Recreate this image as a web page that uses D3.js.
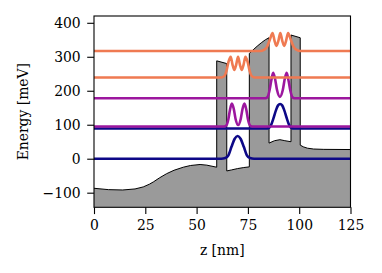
<!DOCTYPE html>
<html>
<head>
<meta charset="utf-8">
<script src="https://cdn.jsdelivr.net/npm/d3@7"></script>
<style>
  body { margin: 0; background: #fff; }
  svg text { font-family: "DejaVu Serif", serif; }
</style>
</head>
<body>
<div id="chart"></div>
<script>
// Chart data
const xTicks = [0, 25, 50, 75, 100, 125];
const yTicks = [-100, 0, 100, 200, 300, 400];

// Conduction band profile [z (nm), energy (meV)]
const potential = [
  [0, -87], [7, -91], [14, -92], [20, -89], [24, -83], [27, -75], [29, -68],
  [32, -56], [35.4, -44], [39, -34], [43.5, -25], [47, -20], [51.7, -17],
  [55, -19], [59.8, -25],
  [59.8, 288], [64.7, 280],
  [64.7, -36], [67, -33], [70, -29], [73, -26], [75.7, -24],
  [75.7, 310], [77.5, 320], [79.5, 331], [81.5, 341], [83.5, 350], [85.3, 356],
  [85.3, 46], [88, 53], [90.6, 56], [93, 53], [96, 50],
  [96, 364], [100.5, 356],
  [100.5, 40], [102, 35], [104, 31], [107, 28.5], [112, 27.5], [125, 27]
];

// Energy levels (meV) and |psi|^2 bumps [z, height above level]
const levels = [0, 89, 95, 178, 239, 317];
const state0 = [[62, 0], [64, 2], [65.5, 10], [67, 35], [68.5, 58], [70, 67], [71.5, 58], [73, 35], [74.5, 10], [76, 2], [78, 0]];
const state1 = [[84, 0], [85.2, 1.5], [86.2, 9], [87.4, 29], [88.7, 54], [89.7, 68], [90.7, 72], [91.7, 68], [92.7, 54], [94, 29], [95.2, 9], [96.2, 1.5], [97.4, 0]];
const state2 = [[63.5, 0], [64.5, 3], [65.5, 22], [66.3, 50], [67.2, 67], [68.1, 52], [69, 22], [70.25, 4], [71.5, 22], [72.4, 52], [73.3, 67], [74.2, 50], [75, 22], [76, 3], [77, 0]];
const state3 = [[83.5, 0], [84.5, 3], [85.5, 22], [86.4, 52], [87.3, 75], [88.2, 58], [89.2, 24], [90.6, 4], [92, 24], [93, 58], [93.9, 75], [94.8, 52], [95.7, 22], [96.7, 3], [97.7, 0]];
const state4 = [[62, 0], [63.5, 4], [64.5, 18], [65.5, 45], [66.6, 61], [67.5, 38], [68.4, 22], [69.3, 38], [70.2, 61], [71.1, 38], [72, 22], [72.9, 38], [73.8, 61], [74.9, 45], [75.9, 18], [76.9, 4], [78.4, 0]];
const state5 = [[81, 0], [82.8, 3], [84.3, 12], [85.8, 35], [87, 53], [88, 30], [88.9, 15], [89.85, 30], [90.8, 53], [91.75, 30], [92.7, 15], [93.6, 30], [94.6, 53], [95.8, 35], [97.3, 12], [98.8, 3], [100.6, 0]];
const states = [state0, state1, state2, state3, state4, state5];

const stateColors = ['#0d0887', '#0d0887', '#9c179e', '#9c179e', '#ef7a52', '#ef7a52'];

// Layout
const width = 382, height = 273;
const margin = {top: 16, right: 31.5, bottom: 65.7, left: 94};
const xDomain = [0, 125], yDomain = [-143, 420];

const svg = d3.select('#chart')
  .append('svg')
  .attr('width', width)
  .attr('height', height);

const xScale = d3.scaleLinear().domain(xDomain).range([margin.left, width - margin.right]);
const yScale = d3.scaleLinear().domain(yDomain).range([height - margin.bottom, margin.top]);

svg.append('clipPath').attr('id', 'plotclip')
  .append('rect')
  .attr('x', margin.left).attr('y', margin.top)
  .attr('width', width - margin.left - margin.right)
  .attr('height', height - margin.top - margin.bottom);

const plot = svg.append('g').attr('clip-path', 'url(#plotclip)');

// Potential: filled area and outline
const area = d3.area()
  .x(d => xScale(d[0]))
  .y0(yScale(yDomain[0]))
  .y1(d => yScale(d[1]));
plot.append('path')
  .datum(potential)
  .attr('d', area)
  .attr('fill', '#9a9a9a')
  .attr('stroke', 'none');
plot.append('path')
  .datum(potential)
  .attr('d', d3.line().x(d => xScale(d[0])).y(d => yScale(d[1])))
  .attr('fill', 'none')
  .attr('stroke', '#000')
  .attr('stroke-width', 1);

// Wavefunctions, drawn from level + bump, flat elsewhere
const waveLine = d3.line()
  .x(d => xScale(d[0]))
  .y(d => yScale(d[1]))
  .curve(d3.curveMonotoneX);

states.forEach((bump, i) => {
  const E = levels[i];
  const pts = [[xDomain[0], E]]
    .concat(bump.map(p => [p[0], E + p[1]]))
    .concat([[xDomain[1], E]]);
  plot.append('path')
    .datum(pts)
    .attr('d', waveLine)
    .attr('fill', 'none')
    .attr('stroke', stateColors[i])
    .attr('stroke-width', 2.6)
    .attr('stroke-linejoin', 'round');
});

// Axes
const fmt = d => d < 0 ? '\u2212' + Math.abs(d) : String(d);
const xAxis = svg.append('g')
  .attr('transform', `translate(0,${height - margin.bottom})`)
  .call(d3.axisBottom(xScale).tickValues(xTicks).tickFormat(fmt).tickSize(6.8).tickPadding(6.5));
const yAxis = svg.append('g')
  .attr('transform', `translate(${margin.left},0)`)
  .call(d3.axisLeft(yScale).tickValues(yTicks).tickFormat(fmt).tickSize(6.8).tickPadding(6.5));
[xAxis, yAxis].forEach(ax => {
  ax.select('.domain').remove();
  ax.selectAll('line').attr('stroke', '#000').attr('stroke-width', 1.1);
  ax.selectAll('text').attr('fill', '#000').style('font-size', '13.9px').style('font-family', '"DejaVu Serif", serif');
});

// Frame
svg.append('rect')
  .attr('x', margin.left).attr('y', margin.top)
  .attr('width', width - margin.left - margin.right)
  .attr('height', height - margin.top - margin.bottom)
  .attr('fill', 'none')
  .attr('stroke', '#000')
  .attr('stroke-width', 1.1);

// Labels
svg.append('text')
  .attr('x', (margin.left + width - margin.right) / 2)
  .attr('y', 255)
  .attr('text-anchor', 'middle')
  .style('font-size', '13.9px')
  .text('z [nm]');
svg.append('text')
  .attr('transform', `translate(28,${(margin.top + height - margin.bottom) / 2}) rotate(-90)`)
  .attr('text-anchor', 'middle')
  .style('font-size', '13.9px')
  .text('Energy [meV]');
</script>
</body>
</html>
